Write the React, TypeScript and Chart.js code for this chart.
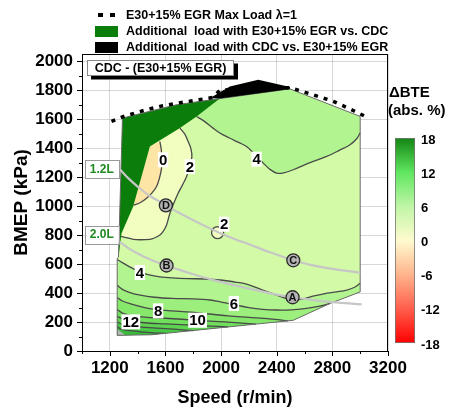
import { useEffect, useRef } from 'react';
import { Chart, registerables } from 'chart.js';

Chart.register(...registerables);

type Pt = [number, number];
const FONT = "'Liberation Sans', Arial, Helvetica, sans-serif";

// ---- axes / text ----
const X_TICKS = [1200, 1600, 2000, 2400, 2800, 3200];
const Y_TICKS = [0, 200, 400, 600, 800, 1000, 1200, 1400, 1600, 1800, 2000];
const COLORBAR_TICKS = [18, 12, 6, 0, -6, -12, -18];
const LEGEND_LABELS = [
  'E30+15% EGR Max Load λ=1',
  'Additional  load with E30+15% EGR vs. CDC',
  'Additional  load with CDC vs. E30+15% EGR',
];

// ---- map geometry (rpm, kPa) ----
const MAP_OUTLINE: Pt[] = [
  [1253, 108], [1253, 640], [1262, 646], [1291, 1608], [1680, 1700], [1991, 1742],
  [2495, 1809], [3000, 1619], [3000, 408], [2783, 328], [2519, 212], [1500, 112],
];
const TOP_EDGE_BACK: Pt[] = [[3000, 1619], [2495, 1809], [1991, 1742]];
const BOTTOM_EDGE: Pt[] = [[3000, 408], [2783, 328], [2519, 212], [1500, 112], [1253, 108]];
const EXTRA_LOAD_E30: Pt[] = [
  [1262, 646], [1291, 1608], [1680, 1700], [1991, 1742], [1824, 1619], [1704, 1539],
  [1488, 1412], [1368, 997], [1284, 812],
];
const EXTRA_LOAD_CDC: Pt[] = [
  [1930, 1745], [1943, 1758], [2063, 1826], [2267, 1873], [2495, 1823], [2495, 1809], [1991, 1742],
];
const MAX_LOAD_E30: Pt[] = [
  [1212, 1585], [1294, 1617], [1450, 1662], [1581, 1693], [1760, 1722], [1941, 1750],
  [1991, 1800], [2250, 1812], [2495, 1818], [2650, 1772], [2807, 1723], [2950, 1660], [3046, 1615],
];
const GRAY_PATCH: Pt[] = [[1253, 108], [1253, 150], [1315, 108]];

// ---- contour lines of ΔBTE ----
const C0: Pt[] = [
  [1560, 1446], [1570, 1390], [1575, 1324], [1572, 1262], [1556, 1190], [1536, 1135],
  [1502, 1090], [1464, 1055], [1420, 1025], [1371, 1005],
];
const C2: Pt[] = [
  [1704, 1539], [1740, 1495], [1763, 1446], [1782, 1400], [1790, 1343], [1776, 1273],
  [1752, 1204], [1722, 1145], [1691, 1089], [1660, 1020], [1632, 951], [1608, 870],
  [1585, 828], [1560, 801], [1520, 780], [1488, 771], [1420, 768], [1368, 771], [1308, 785], [1281, 792],
];
const C2_SMALL: Pt[] = [
  [1975, 858], [1996, 853], [2012, 838], [2018, 817], [2012, 796], [1996, 781], [1975, 776],
  [1954, 781], [1938, 796], [1932, 817], [1938, 838], [1954, 853], [1975, 858],
];
const C4_UPPER: Pt[] = [
  [1824, 1619], [1880, 1585], [1940, 1540], [1991, 1505], [2060, 1470], [2130, 1438],
  [2183, 1412], [2240, 1360], [2303, 1297], [2350, 1255], [2399, 1228], [2450, 1230],
  [2519, 1251], [2640, 1300], [2759, 1343], [2850, 1385], [2927, 1424], [2975, 1465], [3000, 1505],
];
const C4_LOWER: Pt[] = [
  [1253, 632], [1290, 610], [1330, 588], [1380, 562], [1440, 538], [1500, 522], [1560, 512],
  [1650, 505], [1760, 500], [1880, 497], [1991, 490], [2100, 476], [2183, 462], [2260, 435],
  [2330, 410], [2400, 385], [2471, 362], [2530, 354], [2590, 360], [2660, 378], [2740, 395],
  [2830, 408], [2903, 420], [2960, 440], [3000, 468],
];
const C6: Pt[] = [
  [1253, 453], [1290, 425], [1340, 405], [1420, 385], [1520, 371], [1650, 363], [1800, 360],
  [1920, 352], [2000, 338], [2092, 320], [2200, 300], [2300, 288], [2400, 283], [2500, 284],
  [2600, 292], [2700, 308], [2783, 328],
];
const C8: Pt[] = [
  [1253, 369], [1290, 345], [1350, 325], [1450, 300], [1547, 285], [1650, 277], [1750, 270],
  [1850, 262], [1950, 252], [2050, 242], [2200, 232], [2350, 222], [2480, 208],
];
const C10: Pt[] = [
  [1253, 286], [1290, 262], [1350, 246], [1450, 234], [1600, 226], [1720, 219], [1831, 212],
  [1950, 205], [2100, 196], [2250, 186],
];
const C12: Pt[] = [
  [1253, 240], [1290, 222], [1351, 207], [1450, 195], [1600, 187], [1750, 180], [1900, 173], [2050, 166],
];
const C14: Pt[] = [
  [1253, 201], [1290, 185], [1350, 173], [1450, 163], [1600, 155], [1700, 148], [1800, 141],
];
const C16: Pt[] = [[1253, 166], [1290, 150], [1350, 140], [1450, 130], [1530, 124], [1600, 122]];

const CONTOUR_LABEL_TEXT = ['0', '2', '4', '2', '4', '6', '8', '10', '12'];
const CONTOUR_LABEL_RPM = [1583, 1776, 2255, 2022, 1416, 2092, 1547, 1831, 1351];
const CONTOUR_LABEL_BMEP = [1320, 1273, 1324, 875, 542, 328, 277, 212, 201];

// ---- engine equivalent lines ----
const ENGINE_12L: Pt[] = [
  [1272, 1255], [1330, 1195], [1400, 1135], [1480, 1075], [1560, 1030], [1603, 1005], [1700, 952],
  [1800, 902], [1900, 855], [1991, 815], [2100, 772], [2200, 737], [2350, 682], [2519, 626],
  [2650, 593], [2800, 567], [3000, 540],
];
const ENGINE_20L: Pt[] = [
  [1272, 754], [1330, 712], [1400, 673], [1500, 628], [1608, 590], [1700, 560], [1800, 530],
  [1920, 496], [2039, 467], [2150, 442], [2300, 410], [2420, 386], [2514, 371], [2650, 353],
  [2800, 338], [3010, 322],
];
const ENGINE_NAMES = ['1.2L', '2.0L'];
const ENGINE_LABEL_RPM = [1142, 1142];
const ENGINE_LABEL_BMEP = [1255, 804];

const MARKER_NAMES = ['A', 'B', 'C', 'D'];
const MARKER_RPM = [2514, 1608, 2519, 1603];
const MARKER_BMEP = [371, 590, 626, 1005];

const toXY = (pts: Pt[]) => pts.map(([x, y]) => ({ x, y }));

const overlayPlugin = {
  id: 'overlay',
  beforeDatasetDraw(chart: any, args: any) {
    const ds = chart.data.datasets[args.index];
    if (!ds.polyColor && !ds.polyStroke) return;
    const pts = args.meta.data;
    if (!pts.length) return;
    const ctx = chart.ctx;
    ctx.save();
    ctx.beginPath();
    pts.forEach((p: any, i: number) => (i ? ctx.lineTo(p.x, p.y) : ctx.moveTo(p.x, p.y)));
    ctx.closePath();
    if (ds.polyColor) {
      ctx.fillStyle = ds.polyColor;
      ctx.fill();
    }
    if (ds.polyStroke) {
      ctx.strokeStyle = ds.polyStroke;
      ctx.lineWidth = 1;
      ctx.lineJoin = 'round';
      ctx.stroke();
    }
    ctx.restore();
  },
  afterDraw(chart: any) {
    const { ctx, chartArea: a, scales } = chart;
    const x = scales.x;
    const y = scales.y;
    ctx.save();
    // frame
    ctx.strokeStyle = '#000';
    ctx.lineWidth = 1;
    ctx.strokeRect(Math.round(a.left) + 0.5, Math.round(a.top) + 0.5, Math.round(a.right - a.left) - 1, Math.round(a.bottom - a.top));
    // ticks (major + minor)
    ctx.beginPath();
    for (let v = 1000; v <= 3200; v += 200) {
      const px = Math.round(x.getPixelForValue(v)) + 0.5;
      const len = (v - 1200) % 400 === 0 ? 5 : 3;
      ctx.moveTo(px, a.bottom);
      ctx.lineTo(px, a.bottom + len);
    }
    for (let v = 0; v <= 2000; v += 100) {
      const py = Math.round(y.getPixelForValue(v)) + 0.5;
      const len = v % 200 === 0 ? 5 : 3;
      ctx.moveTo(a.left, py);
      ctx.lineTo(a.left - len, py);
    }
    ctx.stroke();

    // contour labels
    ctx.font = `bold 15px ${FONT}`;
    ctx.textAlign = 'center';
    ctx.textBaseline = 'middle';
    CONTOUR_LABEL_TEXT.forEach((t, i) => {
      const px = x.getPixelForValue(CONTOUR_LABEL_RPM[i]);
      const py = y.getPixelForValue(CONTOUR_LABEL_BMEP[i]);
      const w = ctx.measureText(t).width + 2;
      ctx.fillStyle = '#fff';
      ctx.fillRect(px - w / 2, py - 7.5, w, 15);
      ctx.fillStyle = '#000';
      ctx.fillText(t, px, py + 1);
    });

    // marker letters
    const mIdx = chart.data.datasets.findIndex((d: any) => d.isMarkers);
    if (mIdx >= 0) {
      ctx.font = `bold 11px ${FONT}`;
      ctx.fillStyle = '#111';
      chart.getDatasetMeta(mIdx).data.forEach((p: any, i: number) => {
        ctx.fillText(MARKER_NAMES[i], p.x, p.y + 0.5);
      });
    }

    // engine labels
    ctx.font = `bold 12px ${FONT}`;
    ENGINE_NAMES.forEach((t, i) => {
      const px = x.getPixelForValue(ENGINE_LABEL_RPM[i]);
      const py = y.getPixelForValue(ENGINE_LABEL_BMEP[i]);
      ctx.fillStyle = '#fff';
      ctx.fillRect(px - 17, py - 9, 34, 18);
      ctx.strokeStyle = '#9a9a9a';
      ctx.lineWidth = 1;
      ctx.strokeRect(Math.round(px - 17) + 0.5, Math.round(py - 9) + 0.5, 34, 18);
      ctx.fillStyle = '#1f8a1f';
      ctx.fillText(t, px, py + 0.5);
    });

    // annotation box
    ctx.fillStyle = '#000';
    ctx.fillRect(a.left + 9, a.top + 9.5, 147, 16);
    ctx.fillStyle = '#fff';
    ctx.fillRect(a.left + 5, a.top + 6, 147, 16);
    ctx.strokeStyle = '#8a8a8a';
    ctx.strokeRect(a.left + 5.5, a.top + 6.5, 146, 15);
    ctx.fillStyle = '#000';
    ctx.font = `bold 12.5px ${FONT}`;
    ctx.fillText('CDC - (E30+15% EGR)', a.left + 78.5, a.top + 14.5);

    // legend
    ctx.textAlign = 'left';
    ctx.fillStyle = '#000';
    ctx.fillRect(98, 13, 5, 4);
    ctx.fillRect(110, 13, 5, 4);
    ctx.fillStyle = '#0a7d0a';
    ctx.fillRect(95, 26, 23, 11);
    ctx.fillStyle = '#000';
    ctx.fillRect(95, 42, 23, 11);
    ctx.fillText(LEGEND_LABELS[0], 126, 16);
    ctx.fillText(LEGEND_LABELS[1], 126, 32);
    ctx.fillText(LEGEND_LABELS[2], 126, 48);

    // colorbar
    const bx = 395, bw = 20, by0 = 138, by1 = 343;
    const g = ctx.createLinearGradient(0, by0, 0, by1);
    g.addColorStop(0, '#138513');
    g.addColorStop(1 / 6, '#5fe65f');
    g.addColorStop(2 / 6, '#bff5a6');
    g.addColorStop(3 / 6, '#fffbcf');
    g.addColorStop(4 / 6, '#ffb48c');
    g.addColorStop(5 / 6, '#ff5e4c');
    g.addColorStop(1, '#ff0000');
    ctx.fillStyle = g;
    ctx.fillRect(bx, by0, bw, by1 - by0);
    ctx.strokeStyle = '#777';
    ctx.lineWidth = 0.8;
    ctx.strokeRect(bx + 0.5, by0 + 0.5, bw - 1, by1 - by0 - 1);
    ctx.fillStyle = '#000';
    ctx.font = `bold 13px ${FONT}`;
    COLORBAR_TICKS.forEach((v) => {
      const py = by0 + ((18 - v) / 36) * (by1 - by0) + 2;
      ctx.fillText(String(v), 421, py);
    });
    ctx.font = `bold 15px ${FONT}`;
    ctx.fillText('ΔBTE', 389, 93);
    ctx.fillText('(abs. %)', 388, 111);
    ctx.restore();
  },
};

export default function App() {
  const ref = useRef<HTMLCanvasElement>(null);
  useEffect(() => {
    document.body.style.margin = '0';
    Chart.defaults.font.family = FONT;
    const layers: any[] = [];
    const fillPoly = (pts: Pt[], color: string | null, stroke?: string) =>
      layers.push({ data: toXY(pts), showLine: false, pointRadius: 0, polyColor: color, polyStroke: stroke });
    const strokeLine = (pts: Pt[], color: string, width: number, extra: any = {}) =>
      layers.push({
        data: toXY(pts), showLine: true, fill: false, pointRadius: 0, borderColor: color,
        borderWidth: width, tension: 0.35, ...extra,
      });
    const lowerBand = (c: Pt[]) => {
      const endX = c[c.length - 1][0];
      return [...c, ...BOTTOM_EDGE.filter((p) => p[0] <= endX)];
    };

    fillPoly(MAP_OUTLINE, '#d3fba7');
    fillPoly([...C4_UPPER, ...TOP_EDGE_BACK], '#b2f590');
    fillPoly([...C2, [1368, 997], [1488, 1412]], '#f2fdc0');
    fillPoly([...C0, [1488, 1412]], '#fde5a6');
    fillPoly(C2_SMALL, '#f2fdc0');
    fillPoly(lowerBand(C4_LOWER), '#b2f590');
    fillPoly(lowerBand(C6), '#9cef7c');
    fillPoly(lowerBand(C8), '#86e86a');
    fillPoly(lowerBand(C10), '#70df5c');
    fillPoly(lowerBand(C12), '#5cd450');
    fillPoly(lowerBand(C14), '#48c845');
    fillPoly(lowerBand(C16), '#38bb3b');
    fillPoly(GRAY_PATCH, '#b5b5b5');
    [C0, C2, C2_SMALL, C4_UPPER, C4_LOWER, C6, C8, C10, C12, C14, C16].forEach((c) =>
      strokeLine(c, '#4a4a4a', 1.3),
    );
    fillPoly(EXTRA_LOAD_E30, '#0a7d0a');
    fillPoly(MAP_OUTLINE, null, '#6a6a6a');
    fillPoly(EXTRA_LOAD_CDC, '#000000');
    strokeLine(ENGINE_12L, '#c6c6c6', 2.2);
    strokeLine(ENGINE_20L, '#c6c6c6', 2.2);
    strokeLine(MAX_LOAD_E30, '#000', 3.5, { tension: 0, borderDash: [4, 6], borderCapStyle: 'butt' });
    layers.push({
      data: MARKER_RPM.map((v, i) => ({ x: v, y: MARKER_BMEP[i] })),
      showLine: false, pointRadius: 6.5, pointBackgroundColor: '#b4b4b4', pointBorderColor: '#2a2a2a',
      pointBorderWidth: 1.3, isMarkers: true,
    });
    const datasets = layers.map((d, i) => ({ ...d, order: layers.length - i }));

    const tickFont = { family: FONT, weight: 'bold' as const, size: 17 };
    const chart = new Chart(ref.current as HTMLCanvasElement, {
      type: 'scatter',
      data: { datasets } as any,
      plugins: [overlayPlugin as any],
      options: {
        animation: false,
        responsive: false,
        devicePixelRatio: 1,
        events: [],
        layout: { padding: { left: 0, right: 62, top: 54, bottom: 0 } },
        plugins: { legend: { display: false }, tooltip: { enabled: false } },
        scales: {
          x: {
            type: 'linear', min: 1000, max: 3200, z: 1,
            afterBuildTicks: (s: any) => { s.ticks = X_TICKS.map((v) => ({ value: v })); },
            afterFit: (s: any) => { s.height = 58; },
            ticks: { font: tickFont, color: '#000', padding: 7, maxRotation: 0, autoSkip: false, callback: (v: any) => String(v) },
            grid: { color: 'rgba(140,140,140,0.35)', drawTicks: false },
            border: { display: false },
            title: { display: true, text: 'Speed (r/min)', color: '#000', font: { family: FONT, weight: 'bold', size: 18 }, padding: { top: 0, bottom: 0 } },
          },
          y: {
            type: 'linear', min: 0, max: 2050, z: 1,
            afterBuildTicks: (s: any) => { s.ticks = Y_TICKS.map((v) => ({ value: v })); },
            afterFit: (s: any) => { s.width = 82; },
            ticks: { font: tickFont, color: '#000', padding: 9, autoSkip: false, callback: (v: any) => String(v) },
            grid: { color: 'rgba(140,140,140,0.35)', drawTicks: false },
            border: { display: false },
            title: { display: true, text: 'BMEP (kPa)', color: '#000', font: { family: FONT, weight: 'bold', size: 19 }, padding: { top: 10, bottom: 0 } },
          },
        },
      } as any,
    });
    return () => chart.destroy();
  }, []);
  return (
    <div style={{ width: 450, height: 409 }}>
      <canvas ref={ref} width={450} height={409} style={{ display: 'block' }} />
    </div>
  );
}
